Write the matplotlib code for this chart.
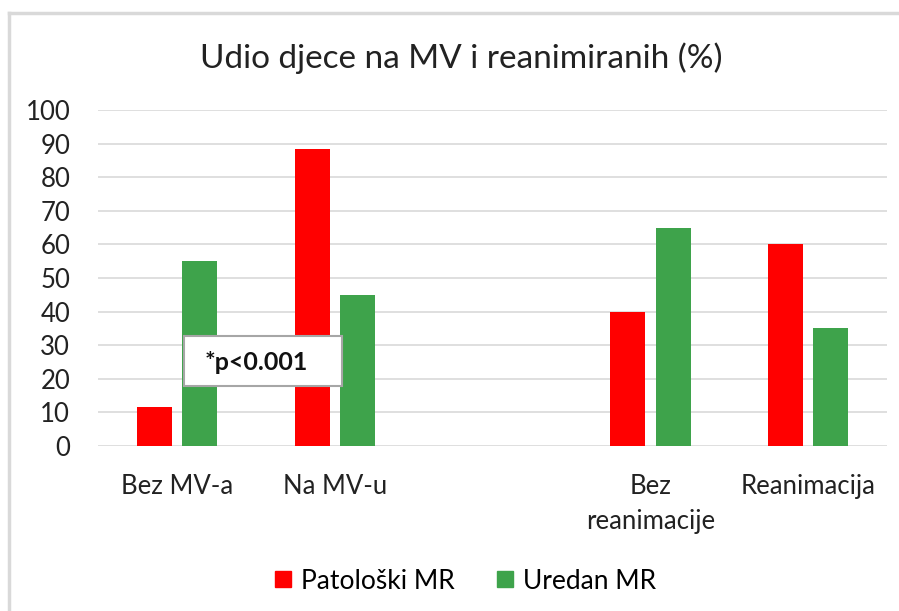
import numpy as np
import matplotlib.pyplot as plt
from matplotlib.patches import Rectangle
from matplotlib.lines import Line2D

plt.rcParams['font.family'] = ['Lato', 'DejaVu Sans']

# podaci
kategorije = ['Bez MV-a', 'Na MV-u', '', 'Bez\nreanimacije', 'Reanimacija']
patoloski = [11.5, 88.5, np.nan, 40, 60]
uredan = [55, 45, np.nan, 65, 35]
oznake_y = list(range(0, 101, 10))

crvena = '#ff0000'
zelena = '#3ea34b'
siva = '#d9d9d9'

fig = plt.figure(figsize=(8.99, 6.11), dpi=100)
ax = fig.add_axes([0.109, 0.270, 0.878, 0.550])

x = np.arange(len(kategorije))
w = 0.222
pomak = 0.143
ax.bar(x - pomak, patoloski, w, color=crvena, label='Patološki MR', zorder=3)
ax.bar(x + pomak, uredan, w, color=zelena, label='Uredan MR', zorder=3)

ax.set_xlim(-0.5, len(kategorije) - 0.5)
ax.set_ylim(0, 100)
ax.set_yticks(oznake_y)
ax.set_xticks(x)
ax.set_xticklabels(kategorije, fontsize=18.5, color='#222222', linespacing=1.5)
ax.tick_params(axis='x', length=0, pad=20)
ax.tick_params(axis='y', length=0, pad=20, labelsize=18.5, labelcolor='#222222')
ax.grid(axis='y', color=siva, linewidth=1.2, zorder=0)
for s in ax.spines.values():
    s.set_visible(False)

# naslov
fig.text(0.513, 0.904, 'Udio djece na MV i reanimiranih (%)',
         ha='center', va='center', fontsize=24, color='#222222')

# okvir s p-vrijednosti
ax.add_patch(Rectangle((0.109, 0.179), 0.200, 0.148, transform=ax.transAxes,
                       facecolor='white', edgecolor='#a6a6a6', linewidth=1.5,
                       zorder=5))
ax.text(0.135, 0.250, '*p<0.001', transform=ax.transAxes, ha='left',
        va='center', fontsize=18, fontweight='bold', color='#111111', zorder=6)

# legenda
ruke = [Line2D([], [], marker='s', color='none', markerfacecolor=crvena,
               markeredgecolor=crvena, markersize=11.5),
        Line2D([], [], marker='s', color='none', markerfacecolor=zelena,
               markeredgecolor=zelena, markersize=11.5)]
fig.legend(ruke, ['Patološki MR', 'Uredan MR'], loc='center',
           bbox_to_anchor=(0.518, 0.049), ncol=2, frameon=False,
           fontsize=19, handlelength=0.6, handletextpad=0.4,
           columnspacing=1.6)

# okvir grafikona
fig.add_artist(Line2D([0.010, 0.010], [0.0, 0.979], color=siva, lw=2.5,
                      transform=fig.transFigure))
fig.add_artist(Line2D([0.010, 0.999], [0.979, 0.979], color=siva, lw=2.5,
                      transform=fig.transFigure))

fig.savefig('out.png', dpi=100)
